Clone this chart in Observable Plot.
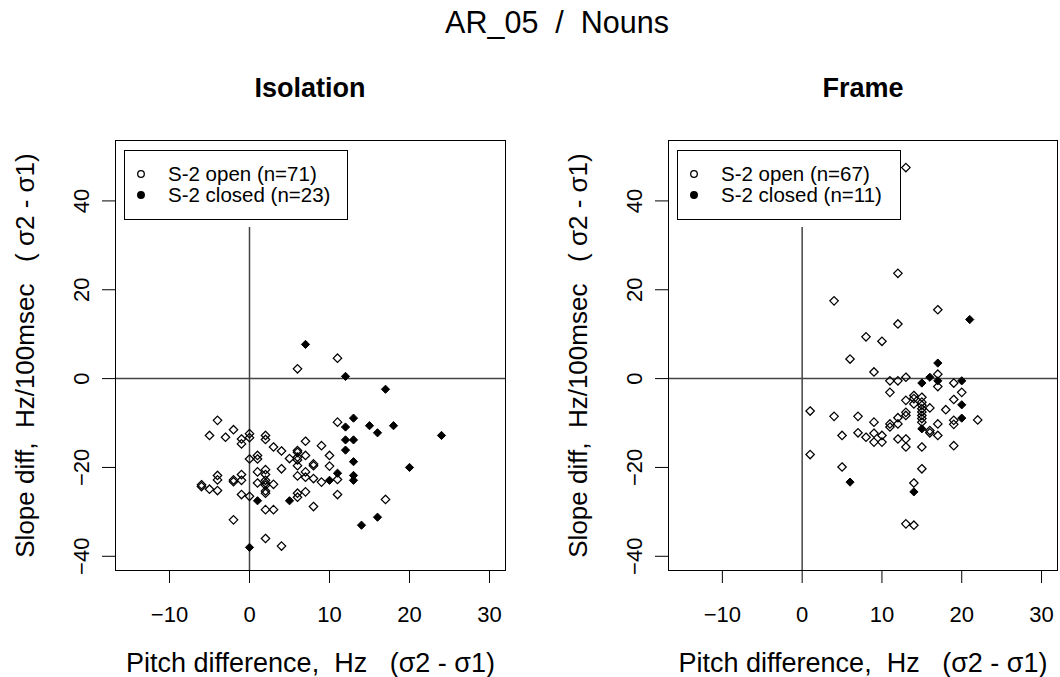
<!DOCTYPE html>
<html><head><meta charset="utf-8">
<script src="https://cdn.jsdelivr.net/npm/d3@7"></script>
<script src="https://cdn.jsdelivr.net/npm/@observablehq/plot@0.6"></script>
<style>
body{margin:0;background:#fff;font-family:"Liberation Sans",Arial,sans-serif;color:#000;}
#wrap{position:relative;width:1060px;height:677px;overflow:hidden;}
.abs{position:absolute;}
svg text{white-space:pre;}
g[aria-label="x-axis label"] text{font-size:27px;}
g[aria-label="y-axis label"] text{font-size:26px;}
.title{left:57px;width:1000px;top:5px;text-align:center;font-size:30.5px;line-height:34px;white-space:pre;}
.ptitle{top:72px;font-size:27px;font-weight:bold;text-align:center;line-height:32px;}
.legend{border:1px solid #000;background:#fff;font-size:20.5px;box-sizing:border-box;}
.legend .row{position:absolute;left:0;height:20px;line-height:20px;white-space:pre;overflow:visible;}
.legend svg{position:absolute;left:9px;top:4px;}
.legend span{position:absolute;display:block;left:43px;top:0;height:20px;line-height:20px;overflow:visible;}
</style></head><body>
<div id="wrap"></div>
<script>
// Tick values
const xTicks = [-10, 0, 10, 20, 30];
const yTicks = [-40, -20, 0, 20, 40];

// Isolation panel: S-2 open (n=71)
const isoOpenX = [11,6,11,-4,-2,-5,-3,-1,-1,0,0,2,2,3,4,7,9,6,6,5,6,6,7,8,8,10,10,0,1,1,4,6,2,2,1,7,7,6,8,9,11,-4,-4,-1,-2,-2,-1,-6,-6,-5,-4,1,2,2,2,3,2,2,-1,0,6,6,7,11,17,8,2,3,-2,2,4];
const isoOpenY = [4.6,2.2,-9.8,-9.4,-11.5,-12.8,-13.2,-13.6,-14.7,-12.4,-13.3,-12.8,-13.7,-15.4,-16.3,-14.1,-15.1,-16.2,-16.6,-18,-17.7,-18.3,-17.3,-19.2,-19.6,-17.3,-19.7,-18.1,-17.3,-18.1,-20.3,-19.6,-20.5,-21.6,-21,-21,-22.2,-21.9,-22.5,-23.3,-22.7,-21.8,-22.8,-21.6,-22.8,-23.2,-22.9,-23.9,-24.3,-24.9,-25.2,-23.5,-22.9,-24,-23.5,-23.8,-25.3,-25.8,-26.1,-26.5,-25.8,-26.7,-25.5,-26.1,-27.2,-28.8,-29.5,-29.5,-31.8,-36,-37.7];
// Isolation panel: S-2 closed (n=23)
const isoClosedX = [7,12,17,13,12,15,18,16,24,12,13,12,13,20,11,10,13,13,1,5,16,14,0];
const isoClosedY = [7.7,0.5,-2.4,-8.9,-10.9,-10.6,-10.6,-12.2,-12.8,-13.8,-13.8,-16.1,-18.7,-20,-21.3,-22.9,-21.8,-22.9,-27.5,-27.5,-31.2,-33,-38];

// Frame panel: S-2 open (n=67)
const frmOpenX = [13,12,4,17,12,8,10,6,9,17,11,12,13,17,19,20,19,11,14,14,15,13,14,15,15,15,15,15,15,15,16,18,12,13,13,17,19,19,22,11,11,12,1,4,7,9,5,7,8,9,10,9,10,12,13,13,15,16,16,17,19,1,5,15,14,13,14];
const frmOpenY = [47.5,23.7,17.5,15.5,12.3,9.4,8.4,4.4,1.5,1,-0.5,-0.5,0.3,-1.8,-1,-3.1,-4.7,-3.1,-3.8,-4.5,-4.2,-4.9,-5.7,-5.3,-6,-6.8,-7.5,-8.3,-9,-9.8,-6.6,-7,-8.8,-7.6,-8.3,-10.2,-9.4,-10.3,-9.3,-10.2,-10.9,-10.2,-7.3,-8.5,-8.5,-9.8,-12.8,-12.2,-13.2,-12.3,-12.8,-14.3,-14.3,-13.6,-13.6,-15.4,-15.4,-11.7,-12.2,-12.8,-15.1,-17.1,-19.9,-20.3,-23.5,-32.7,-33];
// Frame panel: S-2 closed (n=11)
const frmClosedX = [21,17,16,15,17,20,20,20,15,6,14];
const frmClosedY = [13.3,3.5,0.3,-1,-0.5,-0.5,-5.9,-8.9,-11.3,-23.3,-25.5];

const mainTitle = "AR_05  /  Nouns";
const panelTitles = ["Isolation", "Frame"];
const xLabel = "Pitch difference,  Hz   (σ2 - σ1)";
const yLabel = "Slope diff,  Hz/100msec   ( σ2 - σ1)";
const legendOpen = ["S-2 open (n=71)", "S-2 open (n=67)"];
const legendClosed = ["S-2 closed (n=23)", "S-2 closed (n=11)"];

const toRows = (xs, ys) => xs.map((x, i) => ({x, y: ys[i]}));

const X_DOMAIN = [-16.75, 32];
const Y_DOMAIN = [-43.2, 53.6];

function panel(open, closed, width, marginRight) {
  return Plot.plot({
    width, height: 617,
    marginLeft: 115, marginRight, marginTop: 80, marginBottom: 107,
    x: {domain: X_DOMAIN},
    y: {domain: Y_DOMAIN},
    style: {fontFamily: "'Liberation Sans', Arial, sans-serif", fontSize: "22px", color: "#000", background: "transparent", overflow: "visible"},
    marks: [
      Plot.ruleY([0], {stroke: "#444", strokeWidth: 1.5}),
      Plot.ruleX([0], {y1: Y_DOMAIN[0], y2: 34, stroke: "#444", strokeWidth: 1.5}),
      Plot.frame({stroke: "#000", strokeWidth: 1}),
      Plot.axisX({ticks: xTicks, tickSize: 13, tickPadding: 23, label: xLabel, labelAnchor: "center", labelOffset: 101, labelArrow: "none"}),
      Plot.axisY({ticks: yTicks, tickSize: 13, tickPadding: 14, tickRotate: -90, label: yLabel, labelAnchor: "center", labelOffset: 100, labelArrow: "none"}),
      Plot.dot(open, {x: "x", y: "y", symbol: "diamond2", r: 3.8, stroke: "#000", fill: "none", strokeWidth: 1.25}),
      Plot.dot(closed, {x: "x", y: "y", symbol: "diamond2", r: 3.7, stroke: "#000", fill: "#000", strokeWidth: 1})
    ]
  });
}

const wrap = document.getElementById("wrap");
const t = document.createElement("div");
t.className = "abs title"; t.textContent = mainTitle;
wrap.appendChild(t);

const specs = [
  {open: toRows(isoOpenX, isoOpenY), closed: toRows(isoClosedX, isoClosedY), left: 0, width: 553, mr: 48},
  {open: toRows(frmOpenX, frmOpenY), closed: toRows(frmClosedX, frmClosedY), left: 553, width: 507, mr: 3}
];
specs.forEach((s, i) => {
  const svg = panel(s.open, s.closed, s.width, s.mr);
  svg.classList.add("abs");
  svg.style.left = s.left + "px";
  svg.style.top = "60px";
  wrap.appendChild(svg);

  const pt = document.createElement("div");
  pt.className = "abs ptitle";
  pt.style.left = (s.left + 115) + "px";
  pt.style.width = "390px";
  pt.textContent = panelTitles[i];
  wrap.appendChild(pt);

  const lg = document.createElement("div");
  lg.className = "abs legend";
  lg.style.left = (s.left + 124) + "px";
  lg.style.top = "150px";
  lg.style.width = "224px";
  lg.style.height = "70px";
  [[legendOpen[i], "none", 13], [legendClosed[i], "#000", 34]].forEach(([txt, fill, top]) => {
    const row = document.createElement("div");
    row.className = "row";
    row.style.top = top + "px";
    row.style.width = "222px";
    row.innerHTML = `<svg width="14" height="12"><circle cx="7" cy="6" r="3.3" fill="${fill}" stroke="#000" stroke-width="1.3"></circle></svg><span></span>`;
    row.querySelector("span").textContent = txt;
    lg.appendChild(row);
  });
  wrap.appendChild(lg);
});
</script>
</body></html>
